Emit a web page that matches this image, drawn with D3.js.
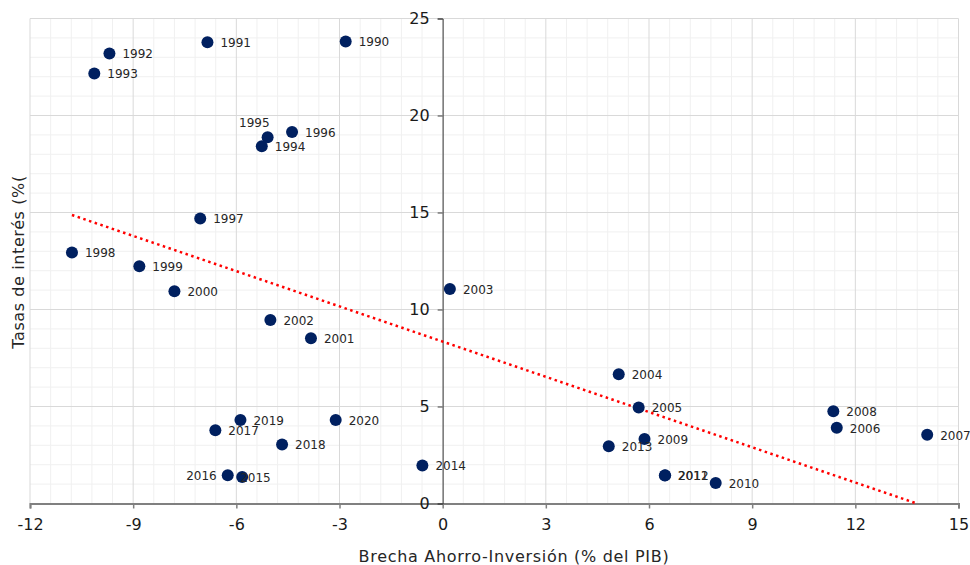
<!DOCTYPE html>
<html>
<head>
<meta charset="utf-8">
<script src="https://cdn.jsdelivr.net/npm/d3@7"></script>
<style>
  body { margin: 0; background: #fff; }
  svg { display: block; font-family: "DejaVu Sans", Verdana, sans-serif; }
</style>
</head>
<body>
<div id="chart"></div>
<script>
const WIDTH = 970;
const HEIGHT = 565;
const LEFT = 30, RIGHT = 958.5, TOP = 18.5, BOTTOM = 503.5;

// one entry per year
const years = ['1990', '1991', '1992', '1993', '1994', '1995', '1996', '1997', '1998', '1999',
  '2000', '2001', '2002', '2003', '2004', '2005', '2006', '2007', '2008', '2009',
  '2010', '2011', '2012', '2013', '2014', '2015', '2016', '2017', '2018', '2019', '2020'];
// savings-investment gap (% of GDP)
const gap = [-2.82, -6.84, -9.69, -10.13, -5.26, -5.09, -4.38, -7.05, -10.78, -8.82,
  -7.80, -3.83, -5.01, 0.21, 5.12, 5.70, 11.46, 14.09, 11.36, 5.87,
  7.94, 6.46, 6.47, 4.83, -0.59, -5.83, -6.25, -6.61, -4.67, -5.88, -3.11];
// interest rates (%)
const rate = [23.81, 23.78, 23.20, 22.16, 18.41, 18.88, 19.15, 14.69, 12.94, 12.23,
  10.94, 8.52, 9.46, 11.06, 6.66, 4.95, 3.90, 3.54, 4.76, 3.33,
  1.06, 1.44, 1.45, 2.95, 1.96, 1.36, 1.46, 3.78, 3.04, 4.31, 4.31];

const xTicks = [-12, -9, -6, -3, 0, 3, 6, 9, 12, 15];
const yTicks = [0, 5, 10, 15, 20, 25];

const points = years.map((y, i) => ({ year: y, x: gap[i], y: rate[i] }));

// labels that Excel placed somewhere other than the right side
const labelPlace = {
  '1995': { dx: 2, dy: -15, anchor: 'end' },
  '2016': { dx: -11, dy: 0, anchor: 'end' },
  '2015': { dx: -2, dy: 0, anchor: 'start' }
};

const x = d3.scaleLinear().domain([-12, 15]).range([LEFT, RIGHT]);
const y = d3.scaleLinear().domain([0, 25]).range([BOTTOM, TOP]);

const svg = d3.select('#chart').append('svg')
  .attr('width', WIDTH)
  .attr('height', HEIGHT);

// minor grid
const minorX = d3.range(-12, 15.001, 0.6).filter(v => Math.abs(v / 3 - Math.round(v / 3)) > 0.01);
const minorY = d3.range(0, 25.001, 1).filter(v => v % 5 !== 0);
svg.append('g').selectAll('line').data(minorX).enter().append('line')
  .attr('x1', d => x(d)).attr('x2', d => x(d))
  .attr('y1', TOP).attr('y2', BOTTOM)
  .attr('stroke', '#f0f0f0');
svg.append('g').selectAll('line').data(minorY).enter().append('line')
  .attr('x1', LEFT).attr('x2', RIGHT)
  .attr('y1', d => y(d)).attr('y2', d => y(d))
  .attr('stroke', '#f0f0f0');

// major grid
svg.append('g').selectAll('line').data(xTicks).enter().append('line')
  .attr('x1', d => x(d)).attr('x2', d => x(d))
  .attr('y1', TOP).attr('y2', BOTTOM)
  .attr('stroke', '#d9d9d9');
svg.append('g').selectAll('line').data(yTicks).enter().append('line')
  .attr('x1', LEFT).attr('x2', RIGHT)
  .attr('y1', d => y(d)).attr('y2', d => y(d))
  .attr('stroke', '#d9d9d9');

// x axis along y = 0
const xAxis = svg.append('g')
  .attr('transform', `translate(0, ${y(0)})`)
  .call(d3.axisBottom(x).tickValues(xTicks).tickSize(5).tickPadding(10).tickFormat(d => String(d)));
xAxis.select('.domain').attr('stroke', '#808080').attr('stroke-width', 2);
xAxis.selectAll('.tick line').attr('stroke', '#808080').attr('stroke-width', 1.5);
xAxis.selectAll('text').attr('font-size', 16).attr('fill', '#1a1a1a')
  .attr('font-family', '"DejaVu Sans", Verdana, sans-serif');

// y axis crossing at x = 0
const yAxis = svg.append('g')
  .attr('transform', `translate(${x(0)}, 0)`)
  .call(d3.axisLeft(y).tickValues(yTicks).tickSize(5).tickPadding(8));
yAxis.select('.domain').attr('stroke', '#404040');
yAxis.selectAll('.tick line').attr('stroke', '#404040');
yAxis.selectAll('text').attr('font-size', 16).attr('fill', '#1a1a1a')
  .attr('font-family', '"DejaVu Sans", Verdana, sans-serif');

// linear trend line, Excel style: over the data x range, cut at the axis floor
const xm = d3.mean(gap), ym = d3.mean(rate);
const slope = d3.sum(gap, (v, i) => (v - xm) * (rate[i] - ym)) / d3.sum(gap, v => (v - xm) * (v - xm));
const intercept = ym - slope * xm;
const tx0 = d3.min(gap);
const tx1 = Math.min(d3.max(gap), -intercept / slope);
svg.append('line')
  .attr('x1', x(tx0)).attr('y1', y(intercept + slope * tx0))
  .attr('x2', x(tx1)).attr('y2', y(intercept + slope * tx1))
  .attr('stroke', '#ff0000')
  .attr('stroke-width', 2.5)
  .attr('stroke-dasharray', '2.5 3.5');

// points
svg.append('g').selectAll('circle').data(points).enter().append('circle')
  .attr('cx', d => x(d.x))
  .attr('cy', d => y(d.y))
  .attr('r', 6)
  .attr('fill', '#002060');

// year labels
svg.append('g').selectAll('text').data(points).enter().append('text')
  .attr('x', d => x(d.x) + (labelPlace[d.year] ? labelPlace[d.year].dx : 13))
  .attr('y', d => y(d.y) + (labelPlace[d.year] ? labelPlace[d.year].dy : 0))
  .attr('dy', '0.4em')
  .attr('text-anchor', d => labelPlace[d.year] ? labelPlace[d.year].anchor : 'start')
  .attr('font-size', 12)
  .attr('fill', '#262626')
  .text(d => d.year);

// axis titles
svg.append('text')
  .attr('x', 514)
  .attr('y', 562)
  .attr('text-anchor', 'middle')
  .attr('font-size', 16)
  .attr('letter-spacing', 0.7)
  .attr('fill', '#262626')
  .text('Brecha Ahorro-Inversión (% del PIB)');
svg.append('text')
  .attr('transform', `translate(24, 262) rotate(-90)`)
  .attr('text-anchor', 'middle')
  .attr('font-size', 16)
  .attr('letter-spacing', 0.6)
  .attr('fill', '#262626')
  .text('Tasas de interés (%(');
</script>
</body>
</html>
